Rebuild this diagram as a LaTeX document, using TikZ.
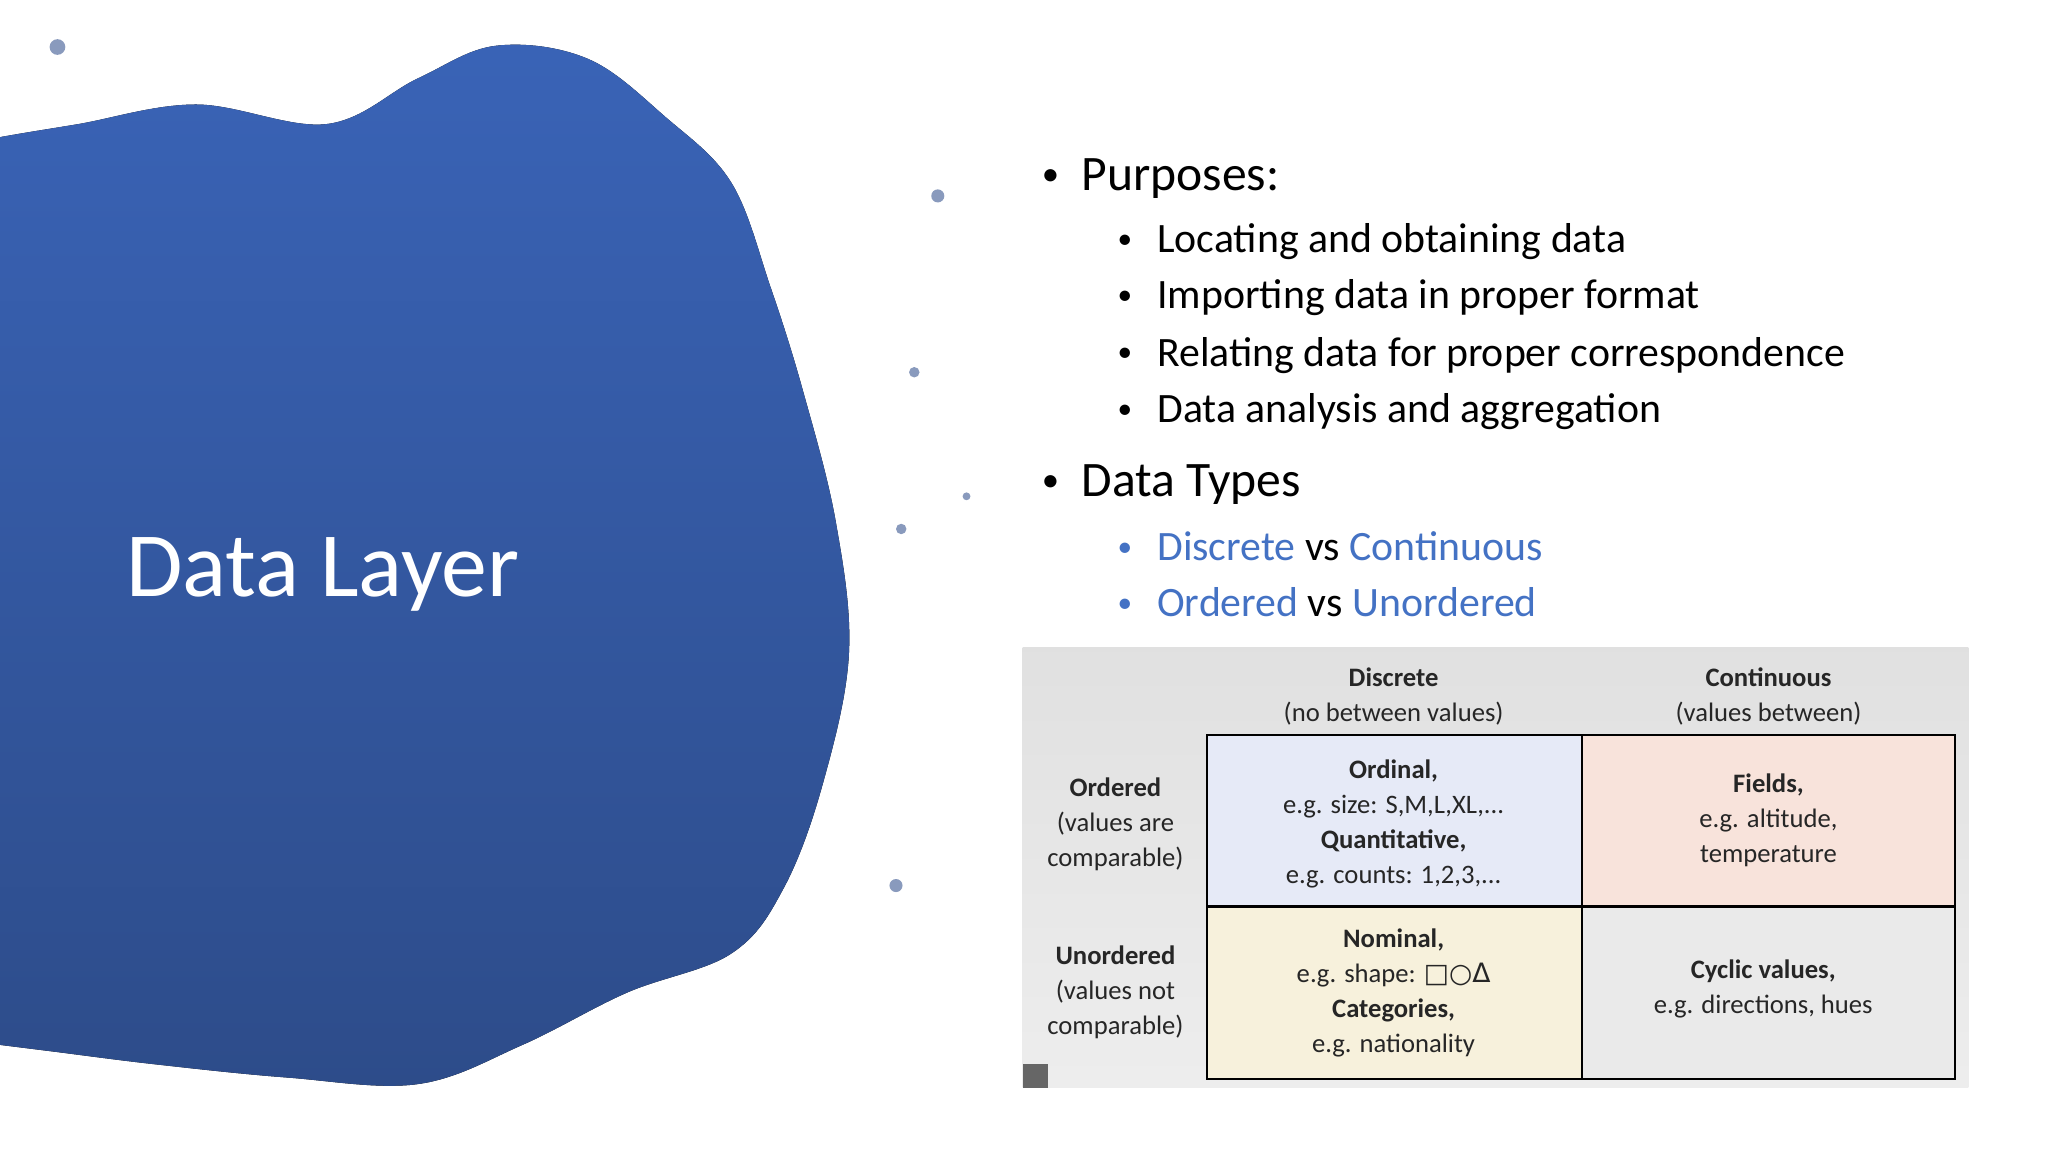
\documentclass[tikz,border=0pt]{standalone}
\usepackage{fontspec}
\setmainfont{Carlito}
\newfontfamily\symf{DejaVu Sans}
\usetikzlibrary{calc}
\definecolor{accent}{HTML}{4472C4}
\definecolor{blobtop}{HTML}{3A64B8}
\definecolor{blobbot}{HTML}{2C4A86}
\definecolor{cA}{HTML}{E6EAF7}
\definecolor{cB}{HTML}{F8E3DB}
\definecolor{cC}{HTML}{F7F1DC}
\definecolor{cD}{HTML}{EAEAEA}
\newcommand{\bul}{\raisebox{0.1em}{\scalebox{0.7}{•}}}
\begin{document}
\begin{tikzpicture}[x=0.01cm,y=-0.01cm,
  main/.style={anchor=west,inner sep=0pt,font=\fontsize{10.8pt}{12pt}\selectfont},
  sub/.style={anchor=west,inner sep=0pt,font=\fontsize{9.1pt}{10pt}\selectfont},
  cell/.style={align=center,inner sep=0pt,font=\fontsize{5.8pt}{7.6pt}\selectfont,text=black!85},
  grid/.style={draw=black,line width=0.5pt}]
\useasboundingbox (0,0) rectangle (1568,882);
\fill[white] (0,0) rectangle (1568,882);
% blob
\fill[top color=blobtop,bottom color=blobbot] plot[smooth cycle,tension=0.6] coordinates{
 (-80,120) (0,105) (60,95) (150,80) (250,95) (320,60) (380,35) (450,45) (510,90) (560,140)
 (590,220) (615,300) (640,400) (650,500) (630,600) (600,680) (560,730) (480,760)
 (400,800) (320,830) (220,825) (120,815) (40,805) (0,800) (-80,790)};
\foreach \p/\r in {{(44,36)/6},{(718,150)/5},{(700,285)/4},{(690,405)/4},{(686,678)/5},{(740,380)/3}}
  \fill[blobtop!60!gray!70] \p circle (\r);
\node[anchor=west,inner sep=0pt,text=white,font=\fontsize{20pt}{24pt}\selectfont] (title) at (96,440) {Data Layer};
% bullets
\node[main] (b1) at (797,137) {\bul\hspace{0.45em}Purposes:};
\node[sub] (s1) at (855,185) {\bul\hspace{0.6em}Locating and obtaining data};
\node[sub] (s2) at (855,228) {\bul\hspace{0.6em}Importing data in proper format};
\node[sub] (s3) at (855,272) {\bul\hspace{0.6em}Relating data for proper correspondence};
\node[sub] (s4) at (855,315) {\bul\hspace{0.6em}Data analysis and aggregation};
\node[main] (b2) at (797,371) {\bul\hspace{0.45em}Data Types};
\node[sub] (s5) at (855,418) {\textcolor{accent}{\bul}\hspace{0.6em}\textcolor{accent}{Discrete} vs \textcolor{accent}{Continuous}};
\node[sub] (s6) at (855,461) {\textcolor{accent}{\bul}\hspace{0.6em}\textcolor{accent}{Ordered} vs \textcolor{accent}{Unordered}};
% table
\shade[top color=black!12,bottom color=black!7] (783,496) rectangle (1507,833);
\fill[cA] (924,563) rectangle (1211,694);
\fill[cB] (1211,563) rectangle (1497,694);
\fill[cC] (924,694) rectangle (1211,826);
\fill[cD] (1211,694) rectangle (1497,826);
\draw[grid] (924,563) rectangle (1497,826);
\draw[grid] (1211,563) -- (1211,826);
\draw[grid] (924,694) -- (1497,694);
\node[cell] (h1) at (1067,533) {\textbf{Discrete}\\(no between values)};
\node[cell] (h2) at (1354,533) {\textbf{Continuous}\\(values between)};
\node[cell] (r1) at (854,631) {\textbf{Ordered}\\(values are\\comparable)};
\node[cell] (r2) at (854,760) {\textbf{Unordered}\\(values not\\comparable)};
\node[cell] (c11) at (1067,631) {\textbf{Ordinal,}\\e.g. size: S,M,L,XL,...\\\textbf{Quantitative,}\\e.g. counts: 1,2,3,...};
\node[cell] (c12) at (1354,628) {\textbf{Fields,}\\e.g. altitude,\\temperature};
\node[cell] (c21) at (1067,760) {\textbf{Nominal,}\\e.g. shape: {\symf □○Δ}\\\textbf{Categories,}\\e.g. nationality};
\node[cell] (c22) at (1350,757) {\textbf{Cyclic values,}\\e.g. directions, hues};
\fill[black!60] (783,815) rectangle (802,833);
\end{tikzpicture}
\end{document}
